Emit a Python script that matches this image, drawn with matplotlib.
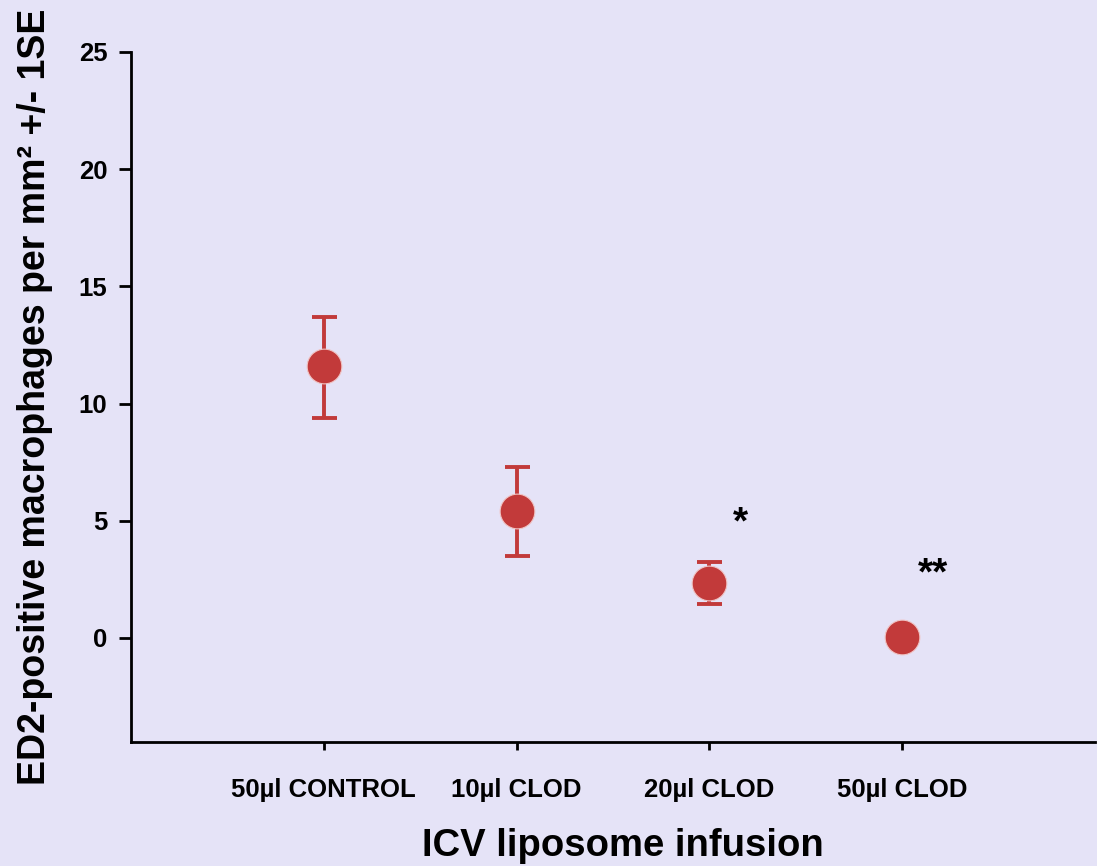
import matplotlib.pyplot as plt

groups = ["50µl CONTROL", "10µl CLOD", "20µl CLOD", "50µl CLOD"]
means = [11.6, 5.4, 2.35, 0.05]
lower = [9.4, 3.5, 1.45, 0.05]
upper = [13.7, 7.3, 3.25, 0.05]
stars = ["", "", "*", "**"]
star_y = [0, 0, 4.9, 2.7]

plt.rcParams['font.family'] = ['Liberation Sans', 'DejaVu Sans']
plt.rcParams['font.weight'] = 'bold'

bg = "#e5e3f7"
red = "#c23a3a"

fig = plt.figure(figsize=(10.97, 8.66), dpi=100, facecolor=bg)
ax = fig.add_axes([0.1194, 0.1432, 0.8786, 0.7968])
ax.set_facecolor(bg)

x = list(range(1, len(groups) + 1))
err_lo = [m - l for m, l in zip(means, lower)]
err_hi = [u - m for m, u in zip(means, upper)]
# error bars only for the first three groups (last one has none)
ax.errorbar(x[:3], means[:3], yerr=[err_lo[:3], err_hi[:3]], fmt='none',
            ecolor=red, elinewidth=2.8, capsize=9, capthick=2.8)
ax.plot(x, means, 'o', color=red, ms=25, mec="#f0c4c4", mew=0.8,
        linestyle='none', zorder=3)

for xi, s, sy in zip(x, stars, star_y):
    if s:
        ax.text(xi + 0.16, sy, s, fontsize=28, ha='center', va='center',
                fontweight='bold')

ax.set_xlim(0, 5)
ax.set_ylim(-4.44, 25)
ax.set_xticks(x)
ax.set_xticklabels(groups, fontsize=18.5, fontweight='bold')
ax.set_yticks([0, 5, 10, 15, 20, 25])
ax.tick_params(axis='y', labelsize=18.5, length=9, width=2, pad=8)
ax.tick_params(axis='x', length=6, width=2, pad=20)
for lab in ax.get_yticklabels():
    lab.set_fontweight('bold')

ax.spines['top'].set_visible(False)
ax.spines['right'].set_visible(False)
ax.spines['left'].set_linewidth(2)
ax.spines['bottom'].set_linewidth(2)

ax.set_ylabel("ED2-positive macrophages per mm² +/- 1SE", fontsize=27,
              fontweight='bold')
ax.yaxis.set_label_coords(-0.081, 0.5)
ax.set_xlabel("ICV liposome infusion", fontsize=27.5, fontweight='bold')
ax.xaxis.set_label_coords(0.51, -0.125)

fig.savefig("out.png", dpi=100, facecolor=bg)
